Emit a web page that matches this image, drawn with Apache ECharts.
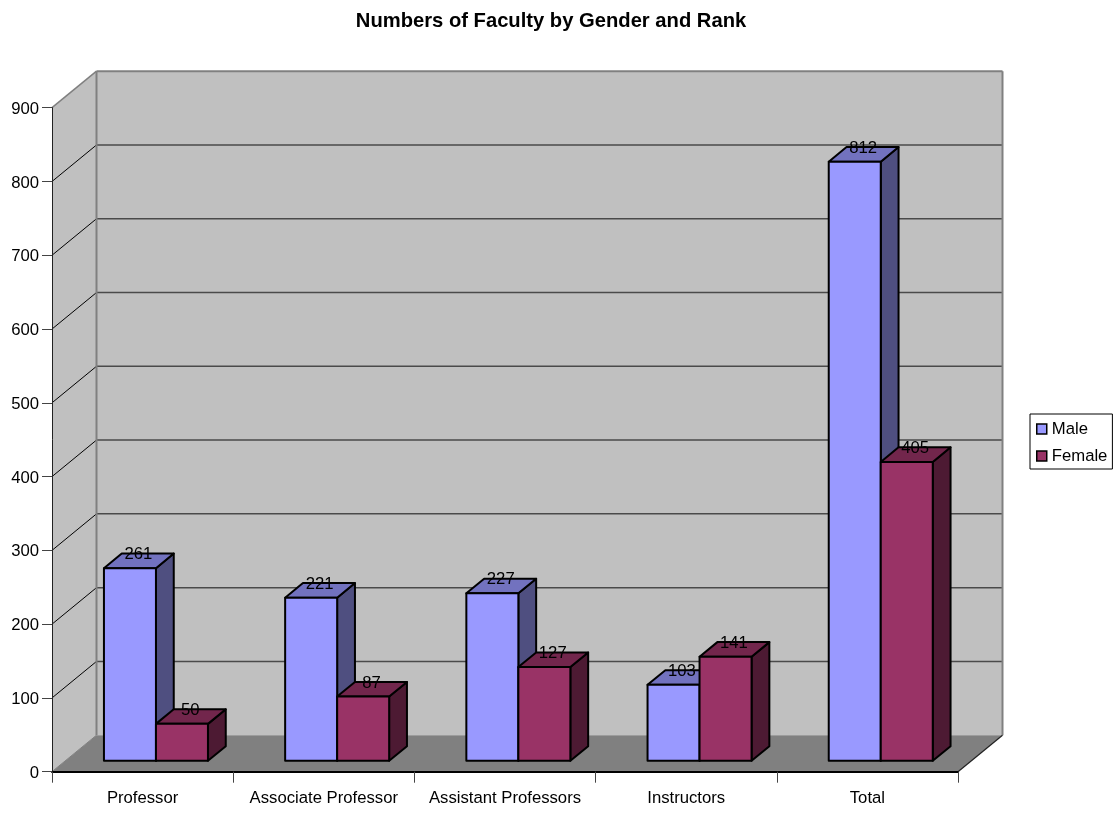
<!DOCTYPE html>
<html>
<head>
<meta charset="utf-8">
<title>Numbers of Faculty by Gender and Rank</title>
<script src="https://cdn.jsdelivr.net/npm/echarts@6/dist/echarts.min.js"></script>
<style>html,body{margin:0;padding:0;background:#fff}#chart{width:1114px;height:813px}</style>
</head>
<body>
<div id="chart"></div>
<script>
const chartTitle = 'Numbers of Faculty by Gender and Rank';
const categories = ['Professor', 'Associate Professor', 'Assistant Professors', 'Instructors', 'Total'];
const maleValues = [261, 221, 227, 103, 812];
const femaleValues = [50, 87, 127, 141, 405];
const yTicks = [0, 100, 200, 300, 400, 500, 600, 700, 800, 900];

const FONT = '"Liberation Sans", Arial, sans-serif';
const TEXT_SIZE = 16.7;
// Oblique projection of the chart's depth axis, in pixels
const DEPTH = { x: 44.5, y: -36.5 };
// Bars occupy the middle of the floor's depth
const BAR_FRONT = 0.3, BAR_DEPTH = 0.4;
const BAR_BAND_SHARE = 0.287;

const palette = {
  male: { front: '#9999ff', top: '#7272bf', side: '#4f4f80' },
  female: { front: '#993366', top: '#72264c', side: '#4d1a33' },
  wall: '#c0c0c0', floor: '#808080', edge: '#808080', grid: '#4a4a4a'
};

function shift(p, t) { return [p[0] + DEPTH.x * t, p[1] + DEPTH.y * t]; }

function poly(points, fill, stroke, width, z2) {
  return {
    type: 'polygon', z2: z2 || 0,
    shape: { points },
    style: { fill, stroke: stroke || null, lineWidth: width || 0, lineJoin: 'round' }
  };
}
function seg(a, b, stroke, width, z2) {
  return {
    type: 'line', z2: z2 || 0,
    shape: { x1: a[0], y1: a[1], x2: b[0], y2: b[1] },
    style: { stroke, lineWidth: width }
  };
}

// Side wall, back wall, floor and the gridlines carried across both walls
function renderRoom(params, api) {
  const band = api.size([1, 0])[0];
  const last = categories.length - 1;
  const top = yTicks[yTicks.length - 1];
  const xL = api.coord([0, 0])[0] - band / 2;
  const xR = api.coord([last, 0])[0] + band / 2;
  const y0 = api.coord([0, 0])[1];
  const yT = api.coord([0, top])[1];
  const fl = [xL, y0], fr = [xR, y0], tl = [xL, yT];
  const kids = [
    poly([fl, shift(fl, 1), shift(tl, 1), tl], palette.wall),
    poly([shift(fl, 1), shift(fr, 1), shift([xR, yT], 1), shift(tl, 1)], palette.wall),
    poly([fl, fr, shift(fr, 1), shift(fl, 1)], palette.floor)
  ];
  yTicks.slice(1, -1).forEach(v => {
    const y = api.coord([0, v])[1];
    kids.push(seg([xL, y], shift([xL, y], 1), '#000', 1));
    kids.push(seg(shift([xL, y], 1), shift([xR, y], 1), palette.grid, 1.5));
  });
  kids.push(seg(tl, shift(tl, 1), palette.edge, 1.5));
  kids.push(seg(shift(tl, 1), shift([xR, yT], 1), palette.edge, 2));
  kids.push(seg(shift(tl, 1), shift(fl, 1), palette.edge, 2));
  kids.push(seg(shift([xR, yT], 1), shift(fr, 1), palette.edge, 2));
  kids.push(seg(fl, shift(fl, 1), palette.edge, 1));
  kids.push(seg(fr, shift(fr, 1), '#222', 1.2));
  return { type: 'group', children: kids };
}

function barRenderer(colors, side) {
  return function (params, api) {
    const idx = api.value(0), val = api.value(1);
    const band = api.size([1, 0])[0];
    const w = band * BAR_BAND_SHARE;
    const centre = api.coord([idx, 0]);
    const tip = api.coord([idx, val]);
    const x1 = centre[0] + (side < 0 ? -w : 0);
    const x2 = x1 + w;
    const a = shift([x1, centre[1]], BAR_FRONT);
    const b = shift([x2, centre[1]], BAR_FRONT);
    const c = shift([x2, tip[1]], BAR_FRONT);
    const d = shift([x1, tip[1]], BAR_FRONT);
    const labelAt = shift([(x1 + x2) / 2, tip[1]], BAR_FRONT + BAR_DEPTH);
    const line = { s: '#000', w: 2 };
    return {
      type: 'group',
      children: [
        poly([b, shift(b, BAR_DEPTH), shift(c, BAR_DEPTH), c], colors.side, line.s, line.w),
        poly([d, c, shift(c, BAR_DEPTH), shift(d, BAR_DEPTH)], colors.top, line.s, line.w),
        poly([a, b, c, d], colors.front, line.s, line.w),
        {
          type: 'text', z2: 10,
          style: {
            x: labelAt[0] + DEPTH.x * BAR_DEPTH * -0.5 - 0.5, y: labelAt[1] + 1,
            text: String(val), fill: '#000',
            font: TEXT_SIZE + 'px ' + FONT, align: 'center', verticalAlign: 'middle'
          }
        }
      ]
    };
  };
}

const option = {
  backgroundColor: '#ffffff',
  animation: false,
  title: {
    text: chartTitle, left: 546, top: 6, textAlign: 'center',
    textStyle: { fontFamily: FONT, fontWeight: 'bold', fontSize: 20.2, color: '#000' }
  },
  legend: {
    left: 1030, top: 414, orient: 'vertical',
    padding: [5, 5, 3, 6], itemWidth: 10, itemHeight: 10, itemGap: 7,
    borderColor: '#000', borderWidth: 1, selectedMode: false,
    textStyle: { fontFamily: FONT, fontSize: TEXT_SIZE, color: '#000', lineHeight: 20 },
    data: [
      { name: 'Male', icon: 'rect', itemStyle: { color: palette.male.front, borderColor: '#000', borderWidth: 1.5 } },
      { name: 'Female', icon: 'rect', itemStyle: { color: palette.female.front, borderColor: '#000', borderWidth: 1.5 } }
    ]
  },
  grid: { left: 52, top: 107.7, width: 906, height: 664, containLabel: false },
  xAxis: {
    type: 'category', data: categories, z: 6,
    axisLine: { lineStyle: { color: '#000', width: 2 } },
    axisTick: { show: true, length: 11, alignWithLabel: false, lineStyle: { color: '#444', width: 1 } },
    axisLabel: { margin: 18, interval: 0, color: '#000', fontFamily: FONT, fontSize: TEXT_SIZE },
    splitLine: { show: false }
  },
  yAxis: {
    type: 'value', min: 0, max: 900, interval: 100, z: 6,
    axisLine: { show: true, lineStyle: { color: '#222', width: 1 } },
    axisTick: { show: true, length: 10, lineStyle: { color: '#444', width: 1 } },
    axisLabel: {
      margin: 13, formatter: '{v|{value}}',
      rich: { v: { color: '#000', fontFamily: FONT, fontSize: TEXT_SIZE, padding: [3, 0, 0, 0] } }
    },
    splitLine: { show: false }
  },
  series: [
    { type: 'custom', name: 'Room', silent: true, clip: false, z: 1, data: [[0, 0]], encode: { x: 0, y: 1 }, renderItem: renderRoom },
    {
      type: 'custom', name: 'Male', clip: false, z: 2,
      itemStyle: { color: palette.male.front },
      data: maleValues.map((v, i) => [i, v]), encode: { x: 0, y: 1 },
      renderItem: barRenderer(palette.male, -1)
    },
    {
      type: 'custom', name: 'Female', clip: false, z: 3,
      itemStyle: { color: palette.female.front },
      data: femaleValues.map((v, i) => [i, v]), encode: { x: 0, y: 1 },
      renderItem: barRenderer(palette.female, 1)
    }
  ]
};

echarts.init(document.getElementById('chart'), null, { renderer: 'canvas' }).setOption(option);
</script>
</body>
</html>
